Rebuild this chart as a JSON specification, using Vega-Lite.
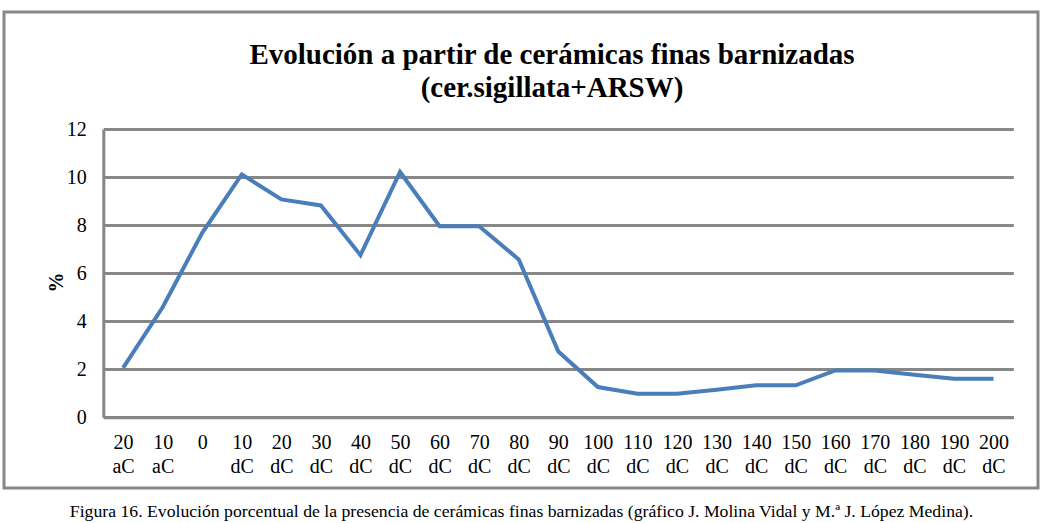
{
  "$schema": "https://vega.github.io/schema/vega-lite/v6.json",
  "autosize": {"type": "none"},
  "padding": {"left": 4, "top": 12, "right": 6, "bottom": 35},
  "width": 1034,
  "height": 476,
  "background": "white",
  "title": {
    "text": ["Evolución a partir de cerámicas  finas barnizadas", "(cer.sigillata+ARSW)"],
    "font": "Liberation Serif",
    "fontSize": 29,
    "fontWeight": "bold",
    "color": "black",
    "anchor": "middle",
    "offset": -91,
    "dx": 31,
    "lineHeight": 33
  },
  "data": {
    "values": [
      {"periodo": "20 aC", "pct": 2.06},
      {"periodo": "10 aC", "pct": 4.58},
      {"periodo": "0", "pct": 7.68},
      {"periodo": "10 dC", "pct": 10.11},
      {"periodo": "20 dC", "pct": 9.07},
      {"periodo": "30 dC", "pct": 8.82},
      {"periodo": "40 dC", "pct": 6.75},
      {"periodo": "50 dC", "pct": 10.21},
      {"periodo": "60 dC", "pct": 7.95},
      {"periodo": "70 dC", "pct": 7.95},
      {"periodo": "80 dC", "pct": 6.57},
      {"periodo": "90 dC", "pct": 2.74},
      {"periodo": "100 dC", "pct": 1.26},
      {"periodo": "110 dC", "pct": 0.98},
      {"periodo": "120 dC", "pct": 0.98},
      {"periodo": "130 dC", "pct": 1.15},
      {"periodo": "140 dC", "pct": 1.33},
      {"periodo": "150 dC", "pct": 1.33},
      {"periodo": "160 dC", "pct": 1.95},
      {"periodo": "170 dC", "pct": 1.95},
      {"periodo": "180 dC", "pct": 1.77},
      {"periodo": "190 dC", "pct": 1.6},
      {"periodo": "200 dC", "pct": 1.6}
    ]
  },
  "mark": {"type": "line", "color": "#4a7ebb", "strokeWidth": 4},
  "encoding": {
    "x": {
      "field": "periodo",
      "type": "nominal",
      "sort": null,
      "scale": {"type": "point", "padding": 0.5, "range": [99.3, 1009.3]},
      "axis": {
        "orient": "bottom",
        "offset": -70.7,
        "grid": false,
        "ticks": false,
        "labelAngle": 0,
        "labelPadding": 15,
        "labelExpr": "split(datum.label, ' ')",
        "labelLineHeight": 24,
        "labelFont": "Liberation Serif",
        "labelFontSize": 20,
        "labelColor": "black",
        "labelOverlap": false,
        "domainColor": "#878787",
        "domainWidth": 3,
        "title": "Figura 16. Evolución porcentual de la presencia de cerámicas finas barnizadas (gráfico J. Molina Vidal y M.ª J. López Medina).",
        "titleFont": "Liberation Serif",
        "titleFontSize": 17.7,
        "titleFontWeight": "normal",
        "titleColor": "black",
        "titleX": 517,
        "titleY": 99,
        "titleAlign": "center",
        "titleBaseline": "alphabetic",
        "titleLimit": 0
      }
    },
    "y": {
      "field": "pct",
      "type": "quantitative",
      "scale": {"domain": [0, 12], "range": [405.3, 117], "nice": false},
      "axis": {
        "offset": -99.3,
        "values": [0, 2, 4, 6, 8, 10, 12],
        "grid": true,
        "gridColor": "#878787",
        "gridWidth": 3,
        "ticks": false,
        "labelPadding": 17,
        "labelFont": "Liberation Serif",
        "labelFontSize": 20,
        "labelColor": "black",
        "domainColor": "#878787",
        "domainWidth": 3,
        "title": "%",
        "titleFont": "Liberation Serif",
        "titleFontSize": 20,
        "titleFontWeight": "bold",
        "titleColor": "black",
        "titleX": -37,
        "titleY": 270
      }
    }
  },
  "config": {
    "font": "Liberation Serif",
    "view": {"stroke": "#878787", "strokeWidth": 3, "fill": "white"}
  }
}
